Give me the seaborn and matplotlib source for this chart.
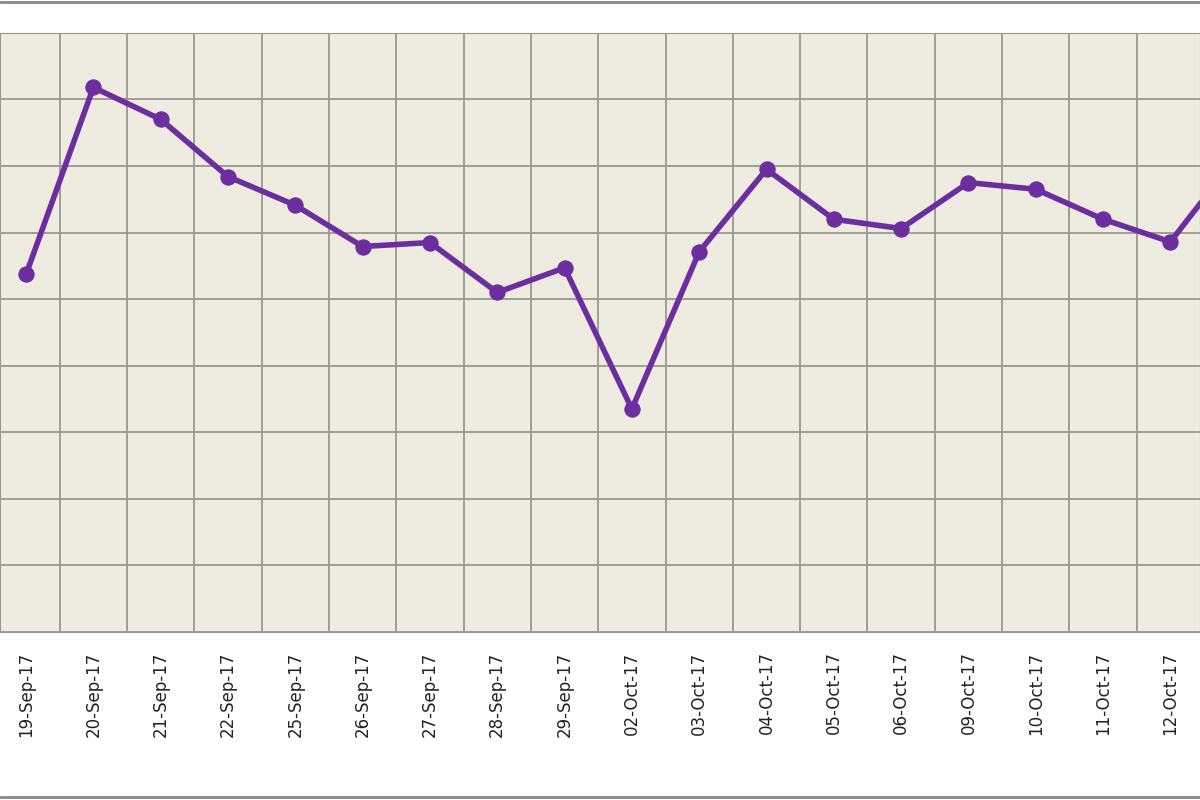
import matplotlib
matplotlib.use("Agg")
import matplotlib.pyplot as plt
import seaborn as sns
import pandas as pd

dates = ["19-Sep-17","20-Sep-17","21-Sep-17","22-Sep-17","25-Sep-17","26-Sep-17",
         "27-Sep-17","28-Sep-17","29-Sep-17","02-Oct-17","03-Oct-17","04-Oct-17",
         "05-Oct-17","06-Oct-17","09-Oct-17","10-Oct-17","11-Oct-17","12-Oct-17","13-Oct-17"]
values = [5.37, 8.18, 7.70, 6.84, 6.41, 5.79, 5.85, 5.10, 5.47, 3.35, 5.71, 6.95,
          6.20, 6.06, 6.75, 6.65, 6.20, 5.86, 7.16]

df = pd.DataFrame({"idx": range(len(dates)), "value": values})

sns.set_style("white")
fig = plt.figure(figsize=(12, 8), dpi=100)
fig.patch.set_facecolor("white")
ax = fig.add_axes([0, 0.21, 1, 0.749])
ax.set_facecolor("#EEEBE1")
sns.lineplot(data=df, x="idx", y="value", ax=ax, color="#6B2E9E", linewidth=4,
             marker="o", markersize=11, markeredgecolor="#6B2E9E")
ax.set_xticks(range(len(dates)))
ax.set_xticklabels(dates, rotation=90, fontsize=12, color="#222222")
ax.set_xticks([i + 0.5 for i in range(-1, len(dates))], minor=True)
ax.set_yticks(range(0, 10))
ax.set_yticklabels([])
ax.set_xlim(-0.387, 17.44)
ax.set_ylim(0, 9)
ax.tick_params(axis="x", which="major", length=0, pad=14)
ax.tick_params(axis="x", which="minor", length=0)
ax.tick_params(axis="y", length=0)
ax.grid(False)
ax.grid(True, which="minor", axis="x", color="#999990", linewidth=1.3)
ax.grid(True, which="major", axis="y", color="#999990", linewidth=1.3)
ax.set_axisbelow(True)
ax.set_xlabel("")
ax.set_ylabel("")
for s in ax.spines.values():
    s.set_color("#999990")
fig.add_artist(plt.Line2D([0, 1], [0.997, 0.997], color="#888888", linewidth=2))
fig.add_artist(plt.Line2D([0, 1], [0.004, 0.004], color="#888888", linewidth=2))
fig.savefig("out.png", dpi=100)
